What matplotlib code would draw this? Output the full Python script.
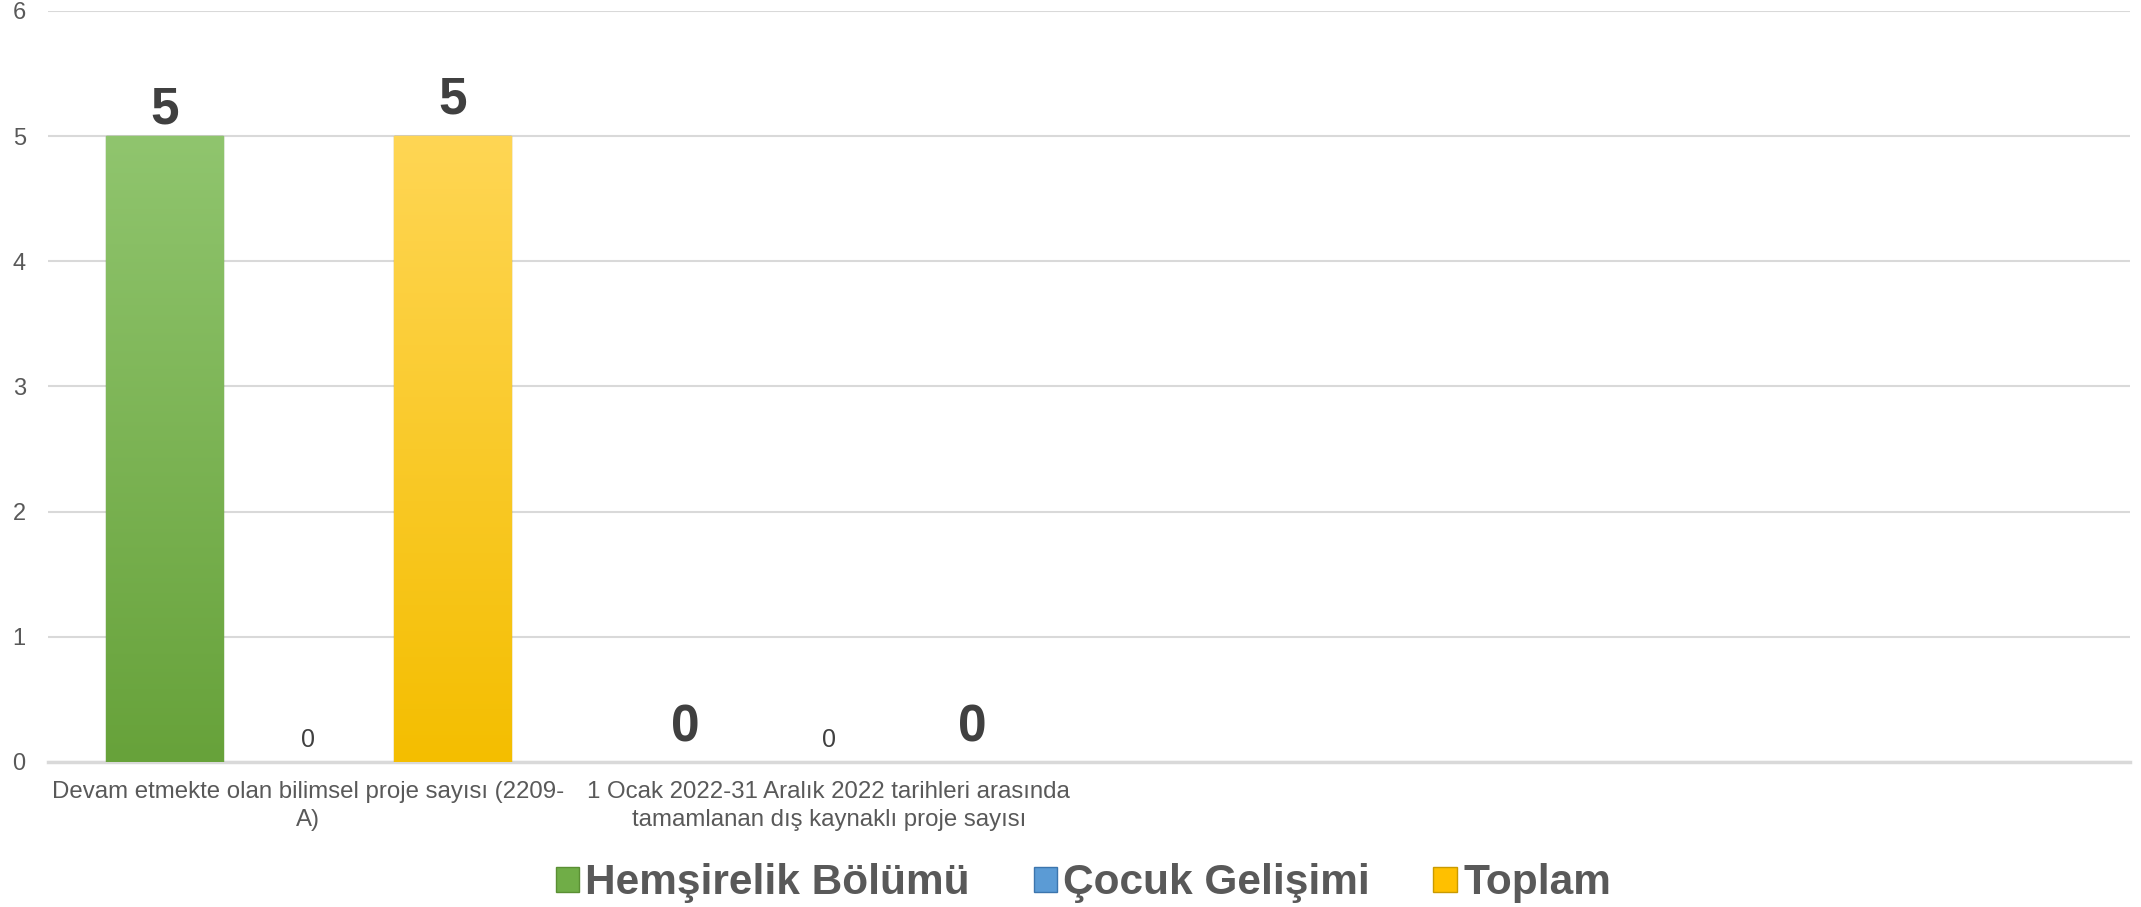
import numpy as np
import matplotlib
matplotlib.use("Agg")
import matplotlib.pyplot as plt
from matplotlib.colors import LinearSegmentedColormap
from matplotlib.patches import Patch

plt.rcParams['font.family'] = ['Liberation Sans', 'DejaVu Sans']

categories = ["Devam etmekte olan bilimsel proje sayısı (2209-\nA)",
              "1 Ocak 2022-31 Aralık 2022 tarihleri arasında\ntamamlanan dış kaynaklı proje sayısı",
              "", ""]
series_names = ["Hemşirelik Bölümü", "Çocuk Gelişimi", "Toplam"]
hemsirelik = [5, 0, np.nan, np.nan]
cocuk = [0, 0, np.nan, np.nan]
toplam = [5, 0, np.nan, np.nan]
yticks = [0, 1, 2, 3, 4, 5, 6]

series = [hemsirelik, cocuk, toplam]
# top/bottom gradient colours, edge colour, legend colour
fills = [("#90C56E", "#67A23A", "#5A8F33", "#70AD47"),
         ("#7FB2E2", "#4A89C8", "#3C75AD", "#5B9BD5"),
         ("#FFD654", "#F4BE00", "#C99A00", "#FFC000")]
label_big = [True, False, True]
label_offsets = [[1, 6.5], [7, 7], [8, 6.5]]

fig = plt.figure(figsize=(21.41, 9.07), dpi=100)
ax = fig.add_axes([0.0224, 0.16, 0.9726, 0.828])

x = np.arange(len(categories))
offsets = [-0.2765, 0.0, 0.2765]
width = 0.2254

for s, vals in enumerate(series):
    top, bot, edge, leg = fills[s]
    cmap = LinearSegmentedColormap.from_list("g%d" % s, [bot, top])
    for i, v in enumerate(vals):
        if np.isnan(v):
            continue
        xc = x[i] + offsets[s]
        if v > 0:
            b = ax.bar(xc, v, width, color=leg, edgecolor=edge, linewidth=1.0, zorder=3)[0]
            grad = np.linspace(0, 1, 256).reshape(-1, 1)
            im = ax.imshow(grad, extent=[b.get_x(), b.get_x() + b.get_width(), 0, v],
                           origin='lower', aspect='auto', cmap=cmap, zorder=3.5)
            im.set_clip_path(b)
        if label_big[s]:
            ax.annotate("%d" % v, (xc, v),
                        xytext=(0, label_offsets[s][i]), textcoords='offset points',
                        ha='center', va='bottom', fontsize=37, fontweight='bold',
                        color='#404040', zorder=5)
        else:
            ax.annotate("%d" % v, (xc, v),
                        xytext=(0, label_offsets[s][i]), textcoords='offset points',
                        ha='center', va='bottom', fontsize=18, color='#404040', zorder=5)

ax.set_xlim(-0.5, len(categories) - 0.5)
ax.set_ylim(0, 6)
ax.set_yticks(yticks)
ax.set_xticks(x)
ax.set_xticklabels(categories, fontsize=17.3, color='#595959', linespacing=1.32)
ax.tick_params(axis='y', length=0, pad=16, labelsize=17, labelcolor='#595959')
ax.tick_params(axis='x', length=0, pad=14)
ax.grid(axis='y', color='#D9D9D9', linewidth=1.5, zorder=0)
ax.set_axisbelow(True)
for sp in ['top', 'right', 'left']:
    ax.spines[sp].set_visible(False)
ax.spines['bottom'].set_color('#D9D9D9')
ax.spines['bottom'].set_linewidth(2.5)

handles = [Patch(facecolor=f[3], edgecolor=f[2], linewidth=1.0) for f in fills]
fig.legend(handles, series_names, loc='center', bbox_to_anchor=(0.506, 0.026),
           ncol=3, frameon=False, handlelength=0.55, handleheight=0.55,
           handletextpad=0.15, columnspacing=1.5,
           prop={'size': 30.5, 'weight': 'bold'}, labelcolor='#595959')

fig.savefig("out.png", dpi=100)
